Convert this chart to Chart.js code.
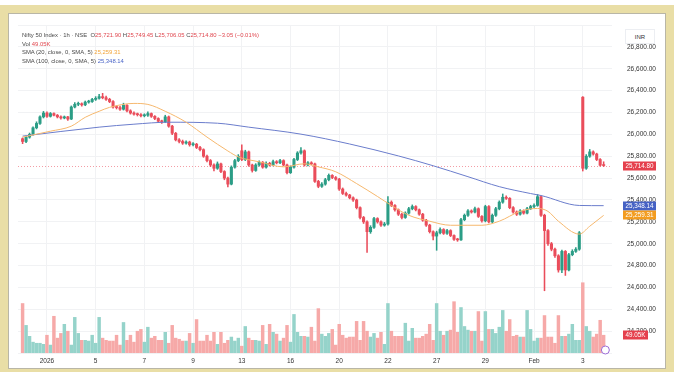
<!DOCTYPE html>
<html>
<head>
<meta charset="utf-8">
<script src="https://cdn.jsdelivr.net/npm/chart.js@4.4.1/dist/chart.umd.min.js"></script>
<style>
html,body{margin:0;padding:0;background:#fff;}
body{width:674px;height:372px;position:relative;overflow:hidden;font-family:"Liberation Sans",Arial,sans-serif;}
#frame{position:absolute;left:0;top:5px;width:674px;height:367px;background:#e9dea6;}
#panel{position:absolute;left:8px;top:8px;width:656px;height:354px;background:#fff;border:1px solid #b9b6a6;}
#chart{position:absolute;left:0;top:0;}
#legend{position:absolute;left:22px;top:31px;font-size:5.9px;line-height:8.7px;color:#4a4a4a;white-space:nowrap;}
.r{color:#e0474f}.o{color:#f2a43a}.b{color:#4a65c8}
#inr{position:absolute;left:625px;top:29px;width:30px;height:15px;background:#fff;border:1px solid #eceef2;box-sizing:border-box;font-size:6px;color:#333;text-align:center;line-height:14px;}
</style>
</head>
<body>
<div id="frame"><div id="panel"></div></div>
<canvas id="chart" width="674" height="372"></canvas>
<div id="legend">
  <div>Nifty 50 Index · 1h · NSE &nbsp;O<span class="r">25,721.90</span> H<span class="r">25,749.45</span> L<span class="r">25,706.05</span> C<span class="r">25,714.80</span> <span class="r">−3.05 (−0.01%)</span></div>
  <div>Vol <span class="r">49.05K</span></div>
  <div>SMA (20, close, 0, SMA, 5) <span class="o">25,259.31</span></div>
  <div>SMA (100, close, 0, SMA, 5) <span class="b">25,348.14</span></div>
</div>
<div id="inr">INR</div>
<script>
// hourly candles, 31 Dec 2025 -> 3 Feb 2026 (7 bars per session)
const opens = [25960,25935,25975,26000,26060,26100,26160,
26195,26165,26190,26175,26160,26150,26160,
26140,26250,26275,26280,26270,26295,26300,
26320,26330,26345,26335,26320,26300,26250,
26245,26230,26265,26215,26195,26185,26180,
26170,26175,26190,26165,26145,26120,26115,
26160,26075,26010,25950,25935,25920,25930,
25905,25910,25880,25860,25800,25760,25720,
25690,25730,25660,25600,25545,25700,25760,
25850,25770,25840,25720,25670,25720,25745,
25700,25735,25720,25750,25740,25760,25720,
25650,25700,25770,25830,25850,25720,25740,
25730,25570,25525,25545,25585,25625,25605,
25590,25500,25460,25445,25420,25400,25330,
25240,25200,25110,25150,25230,25200,25170,
25180,25380,25350,25310,25270,25240,25280,
25320,25340,25310,25270,25215,25170,25110,
25070,25100,25130,25095,25120,25075,25040,
25035,25220,25260,25300,25290,25320,25250,
25210,25340,25200,25260,25320,25380,25425,
25415,25330,25290,25270,25300,25280,25320,
25340,25350,25430,25260,25120,25000,24950,
24890,24760,24930,24760,24900,24930,24950,
26340,25690,25800,25840,25820,25770,25721.9];

const closes = [25935,25975,26000,26060,26100,26160,26195,
26165,26190,26175,26160,26150,26160,26140,
26250,26275,26280,26270,26295,26300,26320,
26330,26345,26335,26320,26300,26250,26245,
26230,26265,26215,26195,26185,26180,26170,
26175,26190,26165,26145,26120,26115,26160,
26075,26010,25950,25935,25920,25930,25905,
25910,25880,25860,25800,25760,25720,25690,
25730,25660,25600,25545,25700,25760,25800,
25770,25840,25720,25670,25720,25745,25700,
25735,25720,25750,25740,25760,25720,25650,
25700,25770,25830,25850,25720,25740,25730,
25570,25525,25545,25585,25625,25605,25590,
25500,25460,25445,25420,25400,25330,25240,
25200,25110,25150,25230,25200,25170,25180,
25380,25350,25310,25270,25240,25280,25320,
25340,25310,25270,25215,25170,25110,25070,
25100,25130,25095,25120,25075,25040,25035,
25220,25260,25300,25290,25320,25250,25210,
25340,25200,25260,25320,25380,25425,25415,
25330,25290,25270,25300,25280,25320,25340,
25350,25430,25260,25120,25000,24950,24890,
24760,24930,24760,24900,24930,24950,25100,
25690,25800,25840,25820,25770,25717.85,25714.8];

const highs = [25968,25985,26012,26070,26115,26170,26210,
26205,26200,26198,26182,26170,26168,26165,
26260,26290,26295,26288,26305,26312,26330,
26345,26365,26375,26350,26330,26308,26262,
26258,26285,26272,26225,26205,26195,26190,
26188,26205,26196,26172,26152,26130,26175,
26168,26082,26018,25962,25948,25942,25938,
25925,25918,25890,25868,25810,25770,25730,
25748,25738,25668,25610,25712,25772,25815,
25905,25855,25848,25728,25732,25758,25752,
25748,25745,25765,25760,25772,25768,25728,
25712,25782,25842,25880,25858,25752,25750,
25738,25580,25560,25598,25638,25632,25615,
25598,25510,25472,25452,25430,25408,25338,
25250,25210,25165,25242,25238,25210,25195,
25432,25392,25358,25318,25280,25292,25332,
25355,25348,25318,25278,25222,25178,25118,
25115,25145,25138,25132,25128,25082,25050,
25232,25272,25312,25310,25335,25328,25258,
25352,25348,25272,25332,25392,25455,25438,
25422,25340,25300,25312,25310,25332,25352,
25365,25450,25438,25270,25130,25012,24960,
24900,24942,24938,24912,24945,24965,25112,
26345,25815,25862,25850,25828,25778,25749.45];

const lows = [25915,25925,25965,25992,26050,26092,26150,
26155,26158,26168,26150,26140,26142,26128,
26135,26242,26262,26258,26262,26285,26292,
26310,26322,26325,26310,26290,26240,26232,
26218,26222,26205,26185,26175,26168,26160,
26160,26165,26155,26135,26110,26100,26108,
26065,25998,25940,25922,25908,25910,25892,
25895,25870,25848,25790,25748,25705,25665,
25680,25650,25585,25520,25538,25690,25750,
25760,25760,25708,25655,25662,25710,25690,
25692,25710,25712,25730,25732,25712,25638,
25642,25692,25760,25820,25710,25712,25720,
25560,25512,25515,25535,25575,25595,25580,
25488,25450,25435,25410,25388,25318,25228,
25185,24920,25095,25140,25188,25158,25160,
25170,25340,25298,25258,25228,25232,25270,
25310,25300,25260,25205,25158,25098,25035,
24940,25090,25085,25085,25065,25030,25022,
25030,25210,25250,25280,25282,25240,25198,
25200,25190,25192,25250,25310,25370,25405,
25320,25280,25258,25262,25270,25272,25312,
25330,25342,25250,24570,24985,24935,24875,
24740,24735,24710,24752,24890,24920,24940,
25665,25680,25790,25810,25760,25710,25706.05];

// volume in thousands
const volumes = [136,76,46,30,27,27,24,49,22,101,
41,54,79,60,22,98,54,35,35,33,
49,27,98,41,35,33,33,49,22,84,
35,49,30,60,65,30,71,41,46,35,
35,57,27,76,41,38,33,33,54,27,
92,33,33,49,33,57,24,57,27,35,
44,33,41,19,73,41,35,35,33,76,
24,79,57,52,33,41,76,30,106,57,
46,46,44,71,33,122,52,46,
54,65,22,79,49,41,44,44,87,35,
87,60,44,54,41,57,24,136,60,46,
46,46,82,33,68,41,41,46,52,79,
35,136,60,49,60,63,141,57,125,73,
63,60,60,114,33,114,65,65,54,71,
117,60,92,46,49,44,44,117,65,33,
41,41,103,44,44,27,103,46,46,52,
79,35,35,193,73,60,44,52,90,49.05];

// moving averages (bar index -> value)
const sma20X = [0,8,14,18,22,25,32,36,41,47,53,59,62,68,75,81,85,90,96,102,106,111,117,123,128,132,137,143,148,151,154,160,163,167];
const sma20Y = [25975,26029,26075,26156,26211,26247,26283,26274,26211,26111,25975,25848,25794,25749,25703,25731,25703,25658,25550,25432,25350,25260,25206,25169,25169,25169,25206,25296,25323,25296,25206,25088,25160,25259.31];
const sma100X = [0,22,32,42,56,65,80,94,108,118,128,137,146,149,160,167];
const sma100Y = [25984,26066,26093,26111,26102,26066,26002,25912,25803,25713,25613,25522,25459,25441,25350,25348.14];

const tickIdx = [7,21,35,49,63,77,91,105,119,133,147,161];
const tickLabels = ['2026','5','7','9','13','16','20','22','27','29','Feb','3'];

const RED = '#ea4d5b', GREEN = '#2b9d86';
const up = closes.map((c, i) => c >= opens[i]);
const candleCol = up.map(u => u ? GREEN : RED);
const volCol = up.map(u => u ? '#95d3ca' : '#f6a9a8');
const fmt = v => v.toLocaleString('en-US', {minimumFractionDigits: 2, maximumFractionDigits: 2});

function tag(ctx, y, text, bg, w) {
  ctx.fillStyle = bg;
  ctx.fillRect(623, Math.round(y) - 4.5, w, 9);
  ctx.fillStyle = '#fff';
  ctx.font = '6.3px "Liberation Sans", Arial';
  ctx.textAlign = 'center';
  ctx.textBaseline = 'middle';
  ctx.fillText(text, 623 + w / 2, Math.round(y) + 0.5);
}

const overlay = {
  id: 'overlay',
  beforeDatasetsDraw(c) {
    const {ctx, chartArea: a, scales: {y}} = c;
    const py = Math.round(y.getPixelForValue(closes[closes.length - 1])) + 0.5;
    ctx.save();
    ctx.strokeStyle = 'rgba(234,77,91,0.55)';
    ctx.setLineDash([1, 2]);
    ctx.lineWidth = 1;
    ctx.beginPath(); ctx.moveTo(a.left, py); ctx.lineTo(a.right, py); ctx.stroke();
    ctx.restore();
  },
  afterDraw(c) {
    const {ctx, scales: {y, yv, x}} = c;
    ctx.save();
    tag(ctx, y.getPixelForValue(closes[closes.length - 1]), fmt(closes[closes.length - 1]), '#e5404d', 33);
    tag(ctx, y.getPixelForValue(sma100Y[sma100Y.length - 1]), fmt(sma100Y[sma100Y.length - 1]), '#4662c4', 33);
    tag(ctx, y.getPixelForValue(sma20Y[sma20Y.length - 1]), fmt(sma20Y[sma20Y.length - 1]), '#f39c1f', 33);
    tag(ctx, yv.getPixelForValue(volumes[volumes.length - 1]), volumes[volumes.length - 1].toFixed(2) + 'K', '#e5404d', 25);
    // event marker under the last bars
    ctx.strokeStyle = '#9b6bd6'; ctx.lineWidth = 1;
    ctx.fillStyle = '#fff';
    ctx.beginPath(); ctx.arc(x.getPixelForValue(167.5), 350, 4, 0, Math.PI * 2); ctx.fill(); ctx.stroke();
    ctx.restore();
  }
};

new Chart(document.getElementById('chart'), {
  type: 'bar',
  data: {
    datasets: [
      { type: 'line', label: 'SMA 20', data: sma20X.map((x, i) => ({x, y: sma20Y[i]})),
        borderColor: '#f6b86e', borderWidth: 1, pointRadius: 0, cubicInterpolationMode: 'monotone', yAxisID: 'y', order: 0 },
      { type: 'line', label: 'SMA 100', data: sma100X.map((x, i) => ({x, y: sma100Y[i]})),
        borderColor: '#6b7dcc', borderWidth: 1, pointRadius: 0, cubicInterpolationMode: 'monotone', yAxisID: 'y', order: 0 },
      { label: 'body', data: closes.map((cl, i) => ({x: i, y: [opens[i], cl]})),
        backgroundColor: candleCol, barThickness: 2.4, minBarLength: 1, grouped: false, yAxisID: 'y', order: 1 },
      { label: 'wick', data: closes.map((cl, i) => ({x: i, y: [lows[i], highs[i]]})),
        backgroundColor: candleCol, barThickness: 0.9, grouped: false, yAxisID: 'y', order: 2 },
      { label: 'volume', data: volumes.map((v, i) => ({x: i, y: v})),
        backgroundColor: volCol, barThickness: 2.8, grouped: false, yAxisID: 'yv', order: 3 }
    ]
  },
  options: {
    responsive: false, animation: false, devicePixelRatio: 1,
    layout: {padding: {left: 18, top: 25, right: 10, bottom: 0}},
    plugins: {legend: {display: false}, tooltip: {enabled: false}},
    scales: {
      x: {
        type: 'linear', min: -1.32, max: 169.4, offset: false,
        grid: {color: '#f1f2f4', drawTicks: false, offset: false}, border: {display: false},
        afterBuildTicks: s => { s.ticks = tickIdx.map(v => ({value: v})); },
        ticks: {callback: v => tickLabels[tickIdx.indexOf(v)] ?? '', autoSkip: false, maxRotation: 0,
          font: {size: 6.5, family: '"Liberation Sans", Arial'}, color: '#333', padding: 4},
        afterFit: s => { s.height = 16; }
      },
      y: {
        position: 'right', min: 24000, max: 27000,
        grid: {color: '#f1f2f4', drawTicks: false}, border: {display: false},
        ticks: {stepSize: 200, padding: 15, callback: v => (v <= 24000 || v >= 27000) ? '' : fmt(v),
          font: {size: 6.5, family: '"Liberation Sans", Arial'}, color: '#333'},
        afterFit: s => { s.width = 52; }
      },
      yv: {display: false, min: 0, max: 900}
    }
  },
  plugins: [overlay]
});
</script>
</body>
</html>
